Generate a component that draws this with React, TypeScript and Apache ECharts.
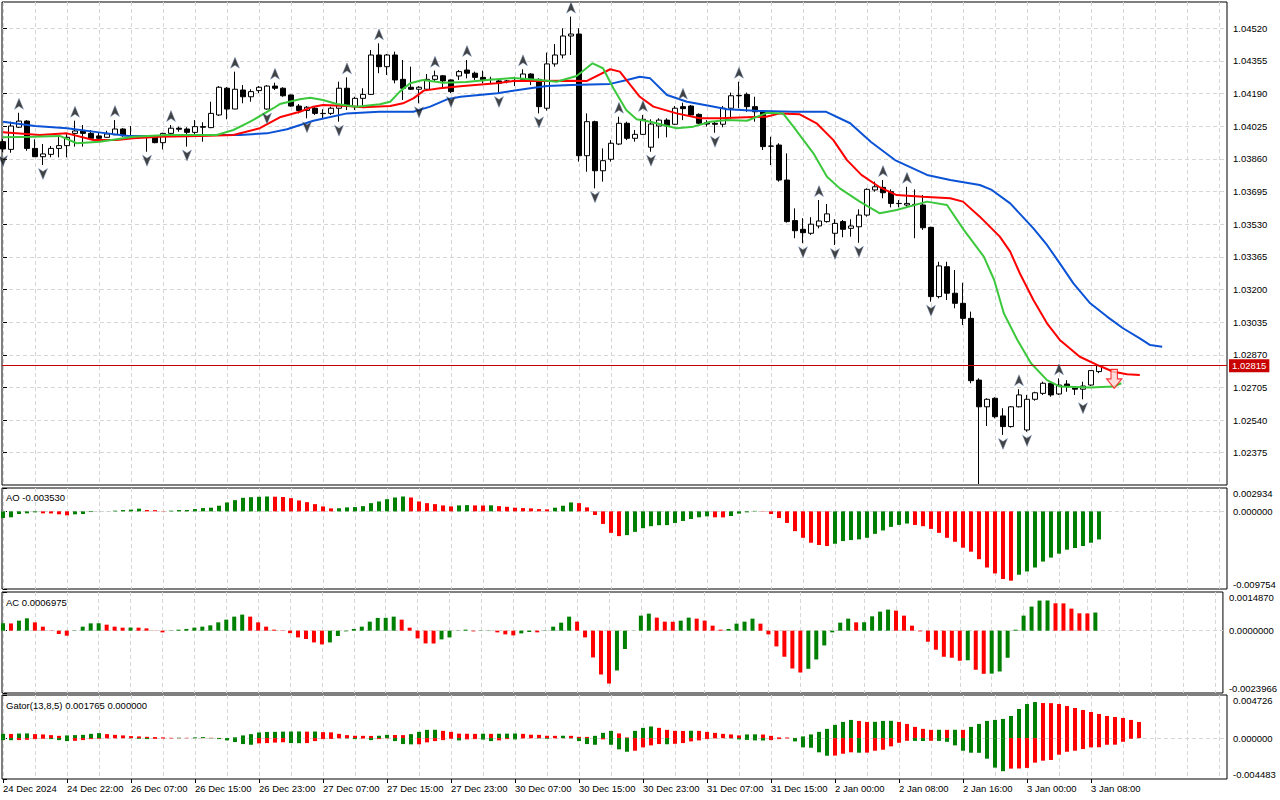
import React, { useEffect, useRef } from "react";
import * as echarts from "echarts";

// ---------- candles (EURUSD H1) ----------
const OPEN = [
  1.03947, 1.03908, 1.0402, 1.04051, 1.03913, 1.03871, 1.03883, 1.03913, 1.03927, 1.03989,
  1.04002, 1.03989, 1.03976, 1.03969, 1.03982, 1.04011, 1.03977, 1.03976, 1.03969, 1.03972,
  1.03942, 1.03989, 1.04015, 1.04011, 1.03994, 1.04023, 1.04018, 1.04082, 1.04217, 1.04112,
  1.04208, 1.04174, 1.04205, 1.04112, 1.04228, 1.04217, 1.04183, 1.04127, 1.04105, 1.04116,
  1.0409, 1.0409, 1.04116, 1.04217, 1.04124, 1.04166, 1.04186, 1.04385, 1.04326, 1.04385,
  1.04262, 1.04222, 1.04212, 1.04212, 1.04262, 1.0428, 1.04259, 1.04279, 1.04309, 1.04293,
  1.04272, 1.04262, 1.04254, 1.04252, 1.04254, 1.04262, 1.04289, 1.04262, 1.04116, 1.0434,
  1.04385, 1.04481, 1.04491, 1.03876, 1.04048, 1.038, 1.03858, 1.03935, 1.0404, 1.03964,
  1.03984, 1.03919, 1.04026, 1.04056, 1.04035, 1.04124, 1.04127, 1.04085, 1.04043, 1.0404,
  1.04035, 1.04116, 1.04179, 1.04186, 1.04124, 1.04098, 1.03924, 1.0393, 1.03753, 1.03548,
  1.03504, 1.03484, 1.03521, 1.03543, 1.03484, 1.03543, 1.03509, 1.03517, 1.03576, 1.03703,
  1.03716, 1.03694, 1.03635, 1.03627, 1.0363, 1.03627, 1.03514, 1.03164, 1.03315, 1.03181,
  1.0313, 1.03054, 1.02742, 1.02607, 1.0265, 1.02561, 1.02507, 1.02607, 1.0249, 1.02645,
  1.02675, 1.02726, 1.02672, 1.02722, 1.02704, 1.02696, 1.02717, 1.02785,
];
const HIGH = [
  1.03961, 1.04048, 1.04093, 1.04056, 1.03959, 1.03935, 1.03925, 1.03976, 1.03986, 1.04053,
  1.04031, 1.04006, 1.03992, 1.04002, 1.04056, 1.04015, 1.04026, 1.03981, 1.03978, 1.03981,
  1.03992, 1.04031, 1.04023, 1.0402, 1.04056, 1.04045, 1.04149, 1.04228, 1.04223, 1.04301,
  1.04233, 1.04212, 1.04228, 1.04233, 1.04245, 1.04222, 1.04185, 1.04137, 1.04127, 1.04127,
  1.04111, 1.04124, 1.0425, 1.04272, 1.04174, 1.04217, 1.0441, 1.04444, 1.0439, 1.04402,
  1.0436, 1.04326, 1.04228, 1.04289, 1.04306, 1.04284, 1.04262, 1.04309, 1.0436, 1.04301,
  1.04306, 1.04275, 1.04259, 1.04259, 1.04275, 1.04313, 1.04293, 1.04267, 1.04397, 1.0444,
  1.0452, 1.04579, 1.0452, 1.0409, 1.04053, 1.03913, 1.03955, 1.04073, 1.04048, 1.04006,
  1.04082, 1.0406, 1.04065, 1.04065, 1.04127, 1.04144, 1.04132, 1.0409, 1.04056, 1.04048,
  1.04127, 1.04195, 1.0425, 1.04195, 1.04174, 1.04107, 1.03972, 1.03939, 1.03888, 1.0361,
  1.0356, 1.03565, 1.03652, 1.03632, 1.03555, 1.03551, 1.03555, 1.03605, 1.03711, 1.03745,
  1.03753, 1.03706, 1.03652, 1.03719, 1.03706, 1.03677, 1.03517, 1.0334, 1.0334, 1.03298,
  1.03234, 1.03088, 1.02751, 1.0265, 1.02655, 1.026, 1.02611, 1.02696, 1.02667, 1.02683,
  1.02734, 1.02729, 1.02751, 1.02742, 1.02712, 1.02734, 1.02793, 1.02818,
];
const LOW = [
  1.03895, 1.03891, 1.04016, 1.03901, 1.0387, 1.03829, 1.03868, 1.03868, 1.03868, 1.03922,
  1.03922, 1.03955, 1.03955, 1.03967, 1.0398, 1.03972, 1.03971, 1.03964, 1.03896, 1.03939,
  1.03908, 1.03981, 1.03997, 1.03922, 1.03972, 1.03947, 1.04015, 1.04077, 1.0406, 1.04111,
  1.04141, 1.04149, 1.04192, 1.04109, 1.04208, 1.04174, 1.04124, 1.0409, 1.04065, 1.04082,
  1.04065, 1.04082, 1.04048, 1.04107, 1.04107, 1.04124, 1.04183, 1.04293, 1.04284, 1.04242,
  1.04158, 1.04208, 1.04141, 1.04208, 1.0425, 1.04217, 1.04193, 1.04259, 1.04267, 1.04259,
  1.04242, 1.04242, 1.04193, 1.04242, 1.04228, 1.04259, 1.04233, 1.0409, 1.04104, 1.04326,
  1.04368, 1.04385, 1.03846, 1.03795, 1.03711, 1.03745, 1.03846, 1.0393, 1.03955, 1.03947,
  1.03981, 1.03896, 1.03964, 1.03969, 1.04031, 1.04056, 1.04077, 1.04036, 1.04023, 1.03992,
  1.0402, 1.04065, 1.04116, 1.04098, 1.04048, 1.03905, 1.03829, 1.03745, 1.03538, 1.03459,
  1.03434, 1.03476, 1.03509, 1.03538, 1.03425, 1.03464, 1.03467, 1.03436, 1.03568, 1.03694,
  1.03661, 1.03615, 1.03615, 1.03618, 1.03459, 1.03501, 1.03138, 1.03155, 1.03147, 1.03105,
  1.0302, 1.02726, 1.02217, 1.0251, 1.02549, 1.02465, 1.02502, 1.02604, 1.02481, 1.02638,
  1.02667, 1.02658, 1.02667, 1.02683, 1.02667, 1.02645, 1.02712, 1.02777,
];
const CLOSE = [
  1.0391, 1.04026, 1.04051, 1.03913, 1.03871, 1.03885, 1.03913, 1.03927, 1.03969, 1.04001,
  1.03989, 1.03964, 1.03964, 1.03986, 1.04011, 1.03977, 1.03976, 1.03974, 1.03976, 1.03942,
  1.03989, 1.04015, 1.0401, 1.03994, 1.04023, 1.0402, 1.0409, 1.04222, 1.04112, 1.04212,
  1.04174, 1.042, 1.04222, 1.04228, 1.04217, 1.04179, 1.04127, 1.04105, 1.04121, 1.0409,
  1.04089, 1.04116, 1.04217, 1.04132, 1.04166, 1.04186, 1.04385, 1.04326, 1.04385, 1.04259,
  1.04217, 1.04212, 1.04222, 1.04262, 1.0428, 1.04254, 1.042, 1.04301, 1.04293, 1.04272,
  1.04259, 1.04261, 1.04242, 1.04254, 1.04252, 1.04289, 1.04262, 1.04124, 1.0434, 1.04385,
  1.04481, 1.04491, 1.03876, 1.04048, 1.038, 1.03851, 1.03939, 1.0404, 1.03964, 1.03984,
  1.0406, 1.04036, 1.04056, 1.04026, 1.04116, 1.04114, 1.04082, 1.0404, 1.04036, 1.04035,
  1.04116, 1.04179, 1.04181, 1.04124, 1.04098, 1.03922, 1.03925, 1.03753, 1.03543, 1.03497,
  1.03487, 1.0353, 1.03546, 1.03582, 1.03534, 1.03504, 1.03521, 1.03576, 1.03706, 1.03719,
  1.03689, 1.03635, 1.03634, 1.03635, 1.03629, 1.03512, 1.03164, 1.03319, 1.03181, 1.0313,
  1.03054, 1.02739, 1.02607, 1.02645, 1.02557, 1.02507, 1.02607, 1.02667, 1.02645, 1.02678,
  1.02726, 1.02667, 1.02717, 1.02709, 1.02696, 1.02712, 1.0279, 1.02815,
];
const LAST_PRICE = 1.02815;

// ---------- Alligator (bar position, price) ----------
const JAW = [
  [0, 1.04048], [4, 1.04026], [8, 1.04015], [12, 1.03994], [15.7, 1.03976], [19.6, 1.03976],
  [24.6, 1.03981], [29.6, 1.03981], [33, 1.03989], [35.5, 1.0401], [38.8, 1.04053], [43, 1.0409],
  [47, 1.04098], [51.3, 1.04098], [53.4, 1.04124], [55.5, 1.04161], [57.2, 1.04174], [61.8, 1.04192],
  [65.9, 1.04217], [68, 1.04228], [71, 1.04233], [75.9, 1.04239], [78, 1.04259], [79.6, 1.04275],
  [80.9, 1.04267], [83, 1.04183], [85.5, 1.04149], [88.4, 1.04127], [90.5, 1.04111], [94.6, 1.04102],
  [98.8, 1.04098], [102.9, 1.04098], [105.9, 1.0404], [108.5, 1.03945], [111.5, 1.03854],
  [115.5, 1.03779], [118.4, 1.03753], [122.1, 1.03728], [123.6, 1.03703], [125.9, 1.03635],
  [128.8, 1.03509], [130.5, 1.03425], [132.1, 1.03332], [133.8, 1.03231], [135.9, 1.0313],
  [138, 1.03063], [140, 1.03004], [142.1, 1.02953], [143.4, 1.02919], [144.9, 1.02911],
];
const TEETH = [
  [0, 1.03995], [4.6, 1.03981], [8, 1.03989], [11.3, 1.03955], [14.2, 1.03955], [16.3, 1.03964],
  [19.6, 1.03972], [24.6, 1.03976], [28.8, 1.03981], [32.1, 1.04015], [34.6, 1.0407], [37.1, 1.04098],
  [38.8, 1.04124], [40, 1.04132], [43, 1.04127], [45, 1.04121], [48.4, 1.04127], [50, 1.04141],
  [51.3, 1.04166], [52.6, 1.04205], [54.6, 1.04217], [57.5, 1.04228], [61.7, 1.04242], [63.8, 1.04254],
  [70.9, 1.04255], [73, 1.04254], [75.9, 1.04313], [77.1, 1.04301], [79.6, 1.04174], [81.3, 1.04124],
  [84.2, 1.0409], [87.1, 1.04065], [89.6, 1.04065], [92.9, 1.0407], [95.4, 1.04073], [97.1, 1.0409],
  [99.6, 1.04085], [101.7, 1.0404], [103.8, 1.03955], [105.5, 1.03854], [107.3, 1.03779],
  [109.5, 1.03719], [111.7, 1.03677], [115, 1.03669], [118.4, 1.03661], [120, 1.03644],
  [122.1, 1.03568], [124.6, 1.03467], [125.9, 1.03391], [127.1, 1.03282], [128.8, 1.03147],
  [130.5, 1.03029], [132.1, 1.02945], [134.6, 1.0286], [137.1, 1.02813], [138.8, 1.02784],
  [140.5, 1.02771], [142.1, 1.02768],
];
const LIPS = [
  [0, 1.03969], [3.8, 1.03972], [7.1, 1.03976], [9.2, 1.03939], [12.1, 1.03947], [16.3, 1.03972],
  [20.5, 1.03981], [26.7, 1.03981], [28.8, 1.04006], [30.9, 1.04048], [33.8, 1.04116], [34.6, 1.04137],
  [37.1, 1.04161], [38.4, 1.04169], [40, 1.04158], [41.7, 1.04137], [44.2, 1.04124], [47.1, 1.04136],
  [48.4, 1.04149], [49.6, 1.042], [50.9, 1.04242], [52.5, 1.04259], [55, 1.04245], [57.9, 1.04249],
  [60.5, 1.04259], [63.8, 1.04269], [67.1, 1.04259], [69.2, 1.0425], [71.7, 1.04279], [73.7, 1.04343],
  [75, 1.04318], [76.3, 1.04217], [77.9, 1.04107], [79.2, 1.0406], [80.9, 1.04048], [84.2, 1.04015],
  [86.3, 1.04023], [88.4, 1.04048], [90.5, 1.04056], [93, 1.04053], [95.5, 1.04093], [97.5, 1.0409],
  [98.8, 1.04023], [101.3, 1.03888], [103, 1.0377], [104.6, 1.03711], [107.1, 1.03644],
  [109.6, 1.03585], [111.7, 1.03602], [115.5, 1.03644], [118, 1.03627], [120.1, 1.03501],
  [122.6, 1.03366], [123.9, 1.03248], [125.1, 1.0308], [126.8, 1.02945], [128.5, 1.02827],
  [130.5, 1.02742], [132.1, 1.02709], [135.9, 1.02704], [138.8, 1.02709], [139.8, 1.02726],
];

// ---------- Fractals (bar indices) ----------
const FRACTAL_UP = [2, 9, 14, 21, 29, 34, 43, 47, 54, 58, 65, 71, 77, 80, 85, 92, 102, 110, 113, 127, 132];
const FRACTAL_DOWN = [0, 5, 18, 23, 33, 38, 42, 52, 56, 62, 67, 74, 81, 89, 100, 104, 107, 116, 125, 128, 135];

// sell signal arrow (bar position, price)
const SIGNAL = [[138.9, 1.02748]];

// ---------- Awesome Oscillator ----------
const AO = [
  -0.000833, -0.000746, -0.000336, -0.000249, -0.000124, -0.000249, -0.000261, -0.000373, -0.000498, -0.000373,
  -0.000336, -0.000087, -0.000012, 0.000012, 0.000087, 0.000162, 0.000211, 0.000336, 0.000174, 0.000149,
  0.000037, 0.000087, 0.000162, 0.000174, 0.000286, 0.000411, 0.00046, 0.000709, 0.00112, 0.001406,
  0.001704, 0.001779, 0.001829, 0.001866, 0.001841, 0.001804, 0.001655, 0.001368, 0.001157, 0.000908,
  0.000622, 0.000373, 0.000386, 0.000498, 0.000535, 0.000659, 0.001033, 0.001244, 0.00153, 0.001742,
  0.001866, 0.001742, 0.001244, 0.001033, 0.000908, 0.000746, 0.000622, 0.000746, 0.000784, 0.000746,
  0.000734, 0.000759, 0.000659, 0.000572, 0.00046, 0.000411, 0.000373, 0.000286, 0.000249, 0.00046,
  0.000709, 0.00112, 0.001033, 0.000498, -0.00046, -0.00158, -0.002699, -0.00311, -0.002986, -0.002575,
  -0.002115, -0.001866, -0.001742, -0.001729, -0.001455, -0.001207, -0.000958, -0.000746, -0.000622, -0.000746,
  -0.000759, -0.000585, -0.000286, -0.000124, 0.000062, -0.000037, -0.000336, -0.000833, -0.001455, -0.002488,
  -0.003321, -0.003943, -0.00423, -0.004354, -0.004068, -0.003732, -0.003608, -0.003521, -0.003321, -0.002824,
  -0.002401, -0.001953, -0.001704, -0.00153, -0.001704, -0.001866, -0.002202, -0.002699, -0.003321, -0.003819,
  -0.004565, -0.005063, -0.006009, -0.007053, -0.0078, -0.008497, -0.008708, -0.007962, -0.007551, -0.007053,
  -0.006307, -0.005809, -0.005312, -0.004814, -0.004603, -0.004354, -0.003943, -0.00353,
];

// ---------- Accelerator Oscillator ----------
const AC = [
  0.0002816, 0.0002777, 0.0003857, 0.0004744, 0.0003201, 0.0001543, 0.0000116, -0.0001273, -0.0001929, -0.0000116,
  0.0001543, 0.0002816, 0.0002854, 0.0002314, 0.0001543, 0.0001157, 0.0001196, 0.0001157, 0.0000887, 0.0000077,
  -0.0000656, -0.0000116, 0.0000386, 0.0000656, 0.0001157, 0.0001543, 0.0002044, 0.0003201, 0.0004243, 0.00054,
  0.0006171, 0.00054, 0.0003201, 0.0001543, 0.0000386, 0.0000116, -0.0000964, -0.0002584, -0.0003201, -0.0004513,
  -0.0005284, -0.0004513, -0.0002044, -0.000027, 0.0000656, 0.0001543, 0.0003471, 0.0004898, 0.0004937, 0.00054,
  0.0004243, 0.0001157, -0.000297, -0.0004898, -0.0004937, -0.0003356, -0.0002584, 0.0000116, 0.0000386, -0.000027,
  -0.0000116, 0.0000116, -0.0000656, -0.0001427, -0.0001813, -0.0001041, -0.0000501, -0.0000656, -0.0000116, 0.0001543,
  0.0003086, 0.00054, 0.0003471, -0.0002584, -0.0010298, -0.0016855, -0.0020326, -0.0015312, -0.0007058, 0.0000039,
  0.0005786, 0.0006557, 0.0005014, 0.0003471, 0.0003433, 0.0003857, 0.0005014, 0.0004628, 0.0003857, 0.0001929,
  0.0000386, 0.0000656, 0.00027, 0.0003471, 0.0004628, 0.00027, -0.0001427, -0.0006055, -0.0010028, -0.0014541,
  -0.0016084, -0.0014657, -0.001107, -0.000567, -0.0000656, 0.0003086, 0.0004628, 0.0003201, 0.000324, 0.0005516,
  0.0007328, 0.00081, 0.0007714, 0.0005786, 0.0001929, -0.000027, -0.0004243, -0.0007328, -0.0010028, -0.0010414,
  -0.0011571, -0.0011378, -0.0015042, -0.0016585, -0.0016508, -0.0015698, -0.0010414, 0.0000386, 0.0005786, 0.0009257,
  0.0011571, 0.001161, 0.001053, 0.0010491, 0.0008485, 0.0006673, 0.0006634, 0.0006975,
];

// ---------- Gator Oscillator (13,8,5) ----------
const GATOR_UP = [
  0.000468, 0.000457, 0.000501, 0.000512, 0.000436, 0.000403, 0.000327, 0.00025, 0.000294, 0.000327,
  0.000359, 0.000468, 0.000545, 0.000436, 0.000359, 0.000294, 0.000218, 0.000185, 0.000142, 0.000109,
  0.000076, 0.000033, 0.000044, 0.000033, 0.000076, 0.000109, 0.000033, 0.000022, 0.000011, 0.000087,
  0.000294, 0.000436, 0.000621, 0.000675, 0.000686, 0.000708, 0.000719, 0.00073, 0.000708, 0.000719,
  0.000653, 0.000632, 0.000468, 0.000327, 0.000261, 0.00025, 0.00024, 0.000261, 0.000359, 0.000338,
  0.000327, 0.000436, 0.000686, 0.000904, 0.000915, 0.000795, 0.000686, 0.00049, 0.000479, 0.000468,
  0.000479, 0.000468, 0.000479, 0.00049, 0.000501, 0.000468, 0.00037, 0.000359, 0.000261, 0.00025,
  0.000261, 0.00025, 0.000142, 0.000131, 0.00025, 0.000577, 0.000795, 0.000512, 0.000076, 0.000795,
  0.001122, 0.001274, 0.001122, 0.000904, 0.000795, 0.000784, 0.000806, 0.000795, 0.000686, 0.000577,
  0.000468, 0.000403, 0.000294, 0.000403, 0.000414, 0.000392, 0.00025, 0.000076, 0.000065, 0.000022,
  0.000185, 0.000403, 0.000686, 0.001013, 0.001448, 0.001775, 0.001993, 0.001884, 0.001775, 0.001786,
  0.001884, 0.001895, 0.001775, 0.001557, 0.001231, 0.001013, 0.000904, 0.000915, 0.000904, 0.000915,
  0.000904, 0.001231, 0.001557, 0.001884, 0.001993, 0.002102, 0.002428, 0.003191, 0.003735, 0.003953,
  0.003844, 0.003833, 0.003735, 0.003517, 0.0033, 0.003082, 0.002864, 0.002646, 0.002428, 0.00232,
  0.002211, 0.001993, 0.001765,
];
const GATOR_DOWN = [
  -0.000218, -0.000229, -0.000218, -0.000185, -0.000109, -0.000076, -0.000109, -0.000218, -0.000327, -0.000294,
  -0.000218, -0.000109, -0.000076, -0.000033, -0.000022, -0.000011, -0.000022, -0.000076, -0.000109, -0.000087,
  -0.000054, -0.000033, -0.000022, -0.000011, -0.000022, -0.000011, -0.000033, -0.000109, -0.00025, -0.000436,
  -0.000653, -0.00073, -0.000577, -0.000545, -0.00049, -0.000457, -0.000545, -0.000555, -0.000545, -0.000327,
  -0.000109, -0.000098, -0.000022, -0.000033, -0.000109, -0.000054, -0.000218, -0.000109, -0.000033, -0.000327,
  -0.000653, -0.000686, -0.000675, -0.000468, -0.000327, -0.000218, -0.000076, -0.00025, -0.000142, -0.000109,
  -0.000163, -0.000327, -0.00025, -0.000109, -0.000142, -0.000033, -0.000022, -0.000033, -0.000076, -0.000022,
  -0.000011, -0.000033, -0.000327, -0.000653, -0.00073, -0.000142, -0.00073, -0.001231, -0.001492, -0.001383,
  -0.001013, -0.000795, -0.000653, -0.000675, -0.000621, -0.000545, -0.000359, -0.00025, -0.000109, -0.000033,
  -0.000011, -0.000033, -0.000142, -0.000196, -0.00025, -0.000261, -0.000218, -0.000109, -0.000033, -0.000359,
  -0.001013, -0.001056, -0.001557, -0.001928, -0.001917, -0.00171, -0.001557, -0.001601, -0.00159, -0.001383,
  -0.001274, -0.000904, -0.000512, -0.000294, -0.000305, -0.000316, -0.000294, -0.000305, -0.000403, -0.000795,
  -0.001383, -0.001601, -0.001612, -0.002254, -0.003234, -0.003626, -0.003343, -0.003332, -0.003267, -0.00269,
  -0.002472, -0.002396, -0.001819, -0.001492, -0.001383, -0.001198, -0.001013, -0.001002, -0.00073, -0.000719,
  -0.000403, -0.000076, 0,
];

// ---------- axis ticks / labels ----------
const PRICE_TICKS = [
  1.02375, 1.0254, 1.02705, 1.0287, 1.03035, 1.032, 1.03365, 1.0353, 1.03695, 1.0386, 1.04025, 1.0419,
  1.04355, 1.0452,
];
const TIME_LABEL_BARS = [0, 8, 16, 24, 32, 40, 48, 56, 64, 72, 80, 88, 96, 104, 112, 120, 128, 136];
const TIME_LABELS = [
  "24 Dec 2024", "24 Dec 22:00", "26 Dec 07:00", "26 Dec 15:00", "26 Dec 23:00", "27 Dec 07:00",
  "27 Dec 15:00", "27 Dec 23:00", "30 Dec 07:00", "30 Dec 15:00", "30 Dec 23:00", "31 Dec 07:00",
  "31 Dec 15:00", "2 Jan 00:00", "2 Jan 08:00", "2 Jan 16:00", "3 Jan 00:00", "3 Jan 08:00",
];
const PRICE_RANGE = [1.022118, 1.046529];
const AO_RANGE = [-0.009754, 0.002934];
const AC_RANGE = [-0.0023966, 0.001487];
const GATOR_RANGE = [-0.004483, 0.004726];

// ---------- styling ----------
const FONT = "'Liberation Sans', Arial, sans-serif";
const FS = 9.5;
const GREEN = "#008000";
const RED = "#ff0000";
const GRID_COLOR = "#d6d6d6";
const X_MIN = -0.125;
const X_MAX = 153;
const VGRID_BARS = Array.from({ length: 39 }, (_, k) => k * 4);

const PANELS = [
  { top: 2, height: 483 },
  { top: 488, height: 101 },
  { top: 592, height: 101 },
  { top: 695, height: 84 },
];

function colorRise(arr: number[], i: number) {
  if (i === 0) return GREEN;
  return arr[i] > arr[i - 1] ? GREEN : RED;
}
function colorAbsRise(arr: number[], i: number) {
  if (i === 0) return GREEN;
  return Math.abs(arr[i]) > Math.abs(arr[i - 1]) ? GREEN : RED;
}

function subYAxis(gridIndex: number, range: number[], digits: number) {
  const [mn, mx] = range;
  const base = { fontSize: FS, fontFamily: FONT, color: "#000" };
  return {
    type: "value",
    gridIndex,
    position: "right",
    min: mn,
    max: mx,
    axisLine: { show: false },
    axisTick: { show: true, length: 4, customValues: [mn, 0, mx], lineStyle: { color: "#000" } },
    axisLabel: {
      customValues: [mn, 0, mx],
      margin: 6,
      ...base,
      formatter: (v: number) =>
        v === mx ? `{t|${mx.toFixed(digits)}}` : v === mn ? `{b|${mn.toFixed(digits)}}` : `{m|${(0).toFixed(digits)}}`,
      rich: {
        t: { ...base, padding: [10, 0, 0, 0] },
        b: { ...base, padding: [0, 0, 10, 0] },
        m: { ...base },
      },
    },
    splitLine: { show: false },
  };
}

const zeroLine = {
  symbol: ["none", "none"],
  silent: true,
  precision: 8,
  label: { show: false },
  lineStyle: { color: GRID_COLOR, type: [4, 3], width: 1 },
  data: [{ yAxis: 0 }],
};

const priceLine = {
  symbol: ["none", "none"],
  silent: true,
  precision: 5,
  data: [{ yAxis: LAST_PRICE }],
  lineStyle: { color: "#c00000", width: 1, type: "solid" },
  label: {
    show: true,
    position: "end",
    distance: 2,
    formatter: LAST_PRICE.toFixed(5),
    color: "#ffffff",
    backgroundColor: "#c80000",
    padding: [2, 3, 1, 3],
    fontSize: FS,
    fontFamily: FONT,
  },
};

function buildOption() {
  const grids = PANELS.map((p) => ({
    left: 2,
    top: p.top,
    width: 1225,
    height: p.height,
    show: true,
    borderColor: "#000",
    borderWidth: 1,
    backgroundColor: "#fff",
    containLabel: false,
  }));

  const xAxes: any[] = PANELS.map((_, gi) => ({
    type: "value",
    gridIndex: gi,
    position: "top",
    min: X_MIN,
    max: X_MAX,
    axisLine: { show: false },
    axisLabel: { show: false },
    axisTick: { show: false, customValues: VGRID_BARS },
    splitLine: { show: true, lineStyle: { color: GRID_COLOR, type: [4, 3], width: 1 } },
  }));
  xAxes.push({
    type: "value",
    gridIndex: 3,
    position: "bottom",
    min: X_MIN,
    max: X_MAX,
    axisLine: { show: false },
    axisTick: { show: true, length: 4, customValues: TIME_LABEL_BARS, lineStyle: { color: "#000" } },
    axisLabel: {
      customValues: TIME_LABEL_BARS,
      formatter: (v: number) => {
        const k = TIME_LABEL_BARS.indexOf(Math.round(v));
        return k >= 0 ? TIME_LABELS[k] : "";
      },
      align: "left",
      margin: 4,
      fontSize: FS,
      fontFamily: FONT,
      color: "#000",
    },
    splitLine: { show: false },
  });

  const yAxes: any[] = [
    {
      type: "value",
      gridIndex: 0,
      position: "right",
      min: PRICE_RANGE[0],
      max: PRICE_RANGE[1],
      axisLine: { show: false },
      axisTick: { show: true, length: 4, customValues: PRICE_TICKS, lineStyle: { color: "#000" } },
      axisLabel: {
        customValues: PRICE_TICKS,
        formatter: (v: number) => v.toFixed(5),
        margin: 6,
        fontSize: FS,
        fontFamily: FONT,
        color: "#000",
      },
      splitLine: { show: true, lineStyle: { color: GRID_COLOR, type: [4, 3], width: 1 } },
    },
    subYAxis(1, AO_RANGE, 6),
    subYAxis(2, AC_RANGE, 7),
    subYAxis(3, GATOR_RANGE, 6),
  ];

  const candleData = OPEN.map((o, i) => [i, o, CLOSE[i], LOW[i], HIGH[i]]);

  const lines = [
    { data: JAW, color: "#0a52d6" },
    { data: TEETH, color: "#ff0000" },
    { data: LIPS, color: "#3cc83c" },
  ].map((l, k) => ({
    type: "line",
    xAxisIndex: 0,
    yAxisIndex: 0,
    data: l.data,
    showSymbol: false,
    symbol: "none",
    smooth: false,
    z: 4,
    lineStyle: { color: l.color, width: 2 },
    ...(k === 0 ? { markLine: priceLine } : {}),
  }));

  const series: any[] = [
    {
      type: "candlestick",
      xAxisIndex: 0,
      yAxisIndex: 0,
      data: candleData,
      encode: { x: 0, y: [1, 2, 3, 4] },
      barWidth: 5,
      z: 2,
      itemStyle: {
        color: "#ffffff",
        color0: "#000000",
        borderColor: "#000000",
        borderColor0: "#000000",
        borderColorDoji: "#000000",
        borderWidth: 1,
      },
    },
    ...lines,
    {
      type: "scatter",
      xAxisIndex: 0,
      yAxisIndex: 0,
      data: FRACTAL_UP.map((i) => [i, HIGH[i]]),
      symbol: "path://M5 0 L10 11 L5 8 L0 11 Z",
      symbolSize: [9, 11],
      symbolOffset: [0, -9],
      z: 5,
      itemStyle: { color: "#141414", borderColor: "#6f8db8", borderWidth: 0.5 },
    },
    {
      type: "scatter",
      xAxisIndex: 0,
      yAxisIndex: 0,
      data: FRACTAL_DOWN.map((i) => [i, LOW[i]]),
      symbol: "path://M0 0 L5 3 L10 0 L5 11 Z",
      symbolSize: [9, 11],
      symbolOffset: [0, 9],
      z: 5,
      itemStyle: { color: "#141414", borderColor: "#6f8db8", borderWidth: 0.5 },
    },
    {
      type: "scatter",
      xAxisIndex: 0,
      yAxisIndex: 0,
      data: SIGNAL,
      symbol: "path://M4 0 L10 0 L10 9 L14 9 L7 18 L0 9 L4 9 Z",
      symbolSize: [15, 19],
      z: 6,
      itemStyle: { color: "#ffd2d2", borderColor: "#ff0000", borderWidth: 1.2 },
    },
    {
      type: "bar",
      xAxisIndex: 1,
      yAxisIndex: 1,
      barWidth: 4,
      z: 10,
      data: AO.map((v, i) => ({ value: [i, v], itemStyle: { color: colorRise(AO, i) } })),
      markLine: zeroLine,
    },
    {
      type: "bar",
      xAxisIndex: 2,
      yAxisIndex: 2,
      barWidth: 4,
      z: 10,
      data: AC.map((v, i) => ({ value: [i, v], itemStyle: { color: colorRise(AC, i) } })),
      markLine: zeroLine,
    },
    {
      type: "bar",
      xAxisIndex: 3,
      yAxisIndex: 3,
      barWidth: 4,
      barGap: "-100%",
      z: 10,
      data: GATOR_UP.map((v, i) => ({ value: [i, v], itemStyle: { color: colorRise(GATOR_UP, i) } })),
      markLine: zeroLine,
    },
    {
      type: "bar",
      xAxisIndex: 3,
      yAxisIndex: 3,
      barWidth: 4,
      barGap: "-100%",
      z: 10,
      data: GATOR_DOWN.map((v, i) => ({ value: [i, v], itemStyle: { color: colorAbsRise(GATOR_DOWN, i) } })),
    },
  ];

  const titleStyle = { fontSize: FS, fontFamily: FONT, fill: "#000" };
  const graphic = [
    { type: "text", left: 6, top: 492, z: 100, style: { ...titleStyle, text: `AO ${AO[AO.length - 1].toFixed(6)}` } },
    { type: "text", left: 6, top: 597, z: 100, style: { ...titleStyle, text: `AC ${AC[AC.length - 1].toFixed(7)}` } },
    {
      type: "text",
      left: 6,
      top: 700,
      z: 100,
      style: {
        ...titleStyle,
        text: `Gator(13,8,5) ${GATOR_UP[GATOR_UP.length - 1].toFixed(6)} ${Math.abs(GATOR_DOWN[GATOR_DOWN.length - 1]).toFixed(6)}`,
      },
    },
  ];

  return {
    animation: false,
    backgroundColor: "#ffffff",
    textStyle: { fontFamily: FONT },
    grid: grids,
    xAxis: xAxes,
    yAxis: yAxes,
    series,
    graphic,
  };
}

export default function App() {
  const ref = useRef<HTMLDivElement>(null);
  useEffect(() => {
    if (!ref.current) return;
    const chart = echarts.init(ref.current, null, { renderer: "svg" });
    chart.setOption(buildOption() as any);
    return () => chart.dispose();
  }, []);
  return (
    <div
      ref={ref}
      style={{ position: "absolute", left: 0, top: 0, width: 1280, height: 800, background: "#fff" }}
    />
  );
}
